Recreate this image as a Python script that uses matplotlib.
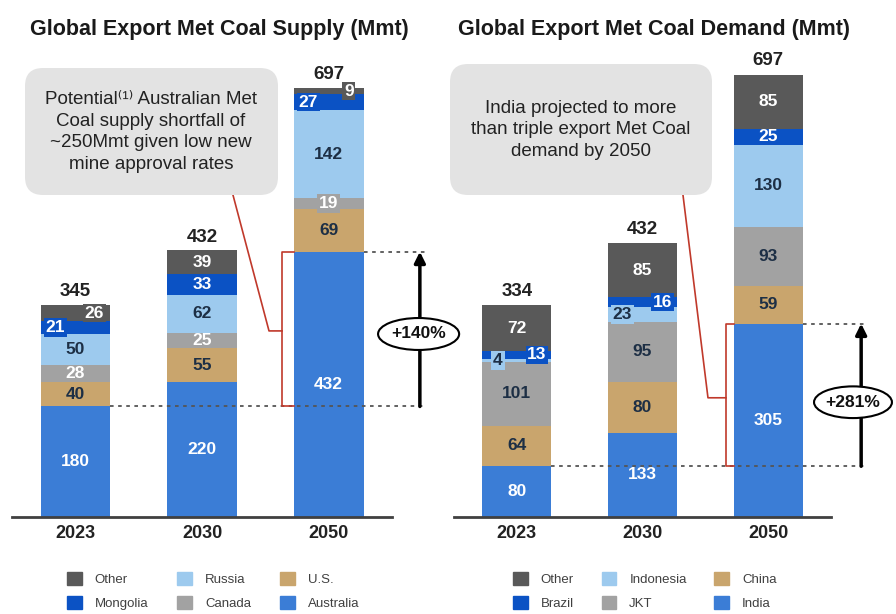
import matplotlib
matplotlib.use("Agg")
import matplotlib.pyplot as plt
from matplotlib.patches import FancyBboxPatch, Ellipse, Patch
from matplotlib.transforms import IdentityTransform

plt.rcParams['font.family'] = ['Liberation Sans', 'DejaVu Sans']

years = ['2023', '2030', '2050']

# supply, bottom to top
supply_names = ['Australia', 'U.S.', 'Canada', 'Russia', 'Mongolia', 'Other']
australia = [180, 220, 432]
us = [40, 55, 69]
canada = [28, 25, 19]
russia = [50, 62, 142]
mongolia = [21, 33, 27]
supply_other = [26, 39, 9]
supply_totals = [345, 432, 697]

# demand, bottom to top
demand_names = ['India', 'China', 'JKT', 'Indonesia', 'Brazil', 'Other']
india = [80, 133, 305]
china = [64, 80, 59]
jkt = [101, 95, 93]
indonesia = [4, 23, 130]
brazil = [13, 16, 25]
demand_other = [72, 85, 85]
demand_totals = [334, 432, 697]

colors = ['#3b7dd6', '#c9a56d', '#a2a2a2', '#9dcaee', '#0b52c4', '#595959']
DARK = '#1d2f45'
supply_txt = ['white', DARK, 'white', DARK, 'white', 'white']
demand_txt = ['white', DARK, DARK, DARK, 'white', 'white']

W = 896
H = 614
fig = plt.figure(figsize=(W / 100, H / 100), dpi=100)


def pix_axes(x0, x1, top, base):
    return fig.add_axes([x0 / W, 1 - base / H, (x1 - x0) / W, (base - top) / H])


axL = pix_axes(12, 392, 30, 517)
axR = pix_axes(454, 831, 30, 517)
axL.set_ylim(0, 793)
axR.set_ylim(0, 768)
axL.patch.set_visible(False)
axR.patch.set_visible(False)

BW = 0.55
LBL = 12.5


def draw_stack(ax, series, names, txtcol, offsets):
    bottoms = [0, 0, 0]
    for k, vals in enumerate(series):
        ax.bar(range(3), vals, BW, bottom=bottoms, color=colors[k], label=names[k], zorder=2)
        for i, v in enumerate(vals):
            y = bottoms[i] + v / 2
            dx = offsets.get((k, i), None)
            if dx is None:
                ax.text(i, y, str(v), ha='center', va='center', color=txtcol[k],
                        fontsize=LBL, fontweight='bold', zorder=4)
            else:
                ax.text(i + dx, y, str(v), ha='center', va='center', color=txtcol[k],
                        fontsize=LBL, fontweight='bold', zorder=5,
                        bbox=dict(boxstyle='square,pad=0.1', fc=colors[k], ec='none'))
        bottoms = [b + v for b, v in zip(bottoms, vals)]


draw_stack(axL, [australia, us, canada, russia, mongolia, supply_other], supply_names, supply_txt,
           {(4, 0): -0.16, (5, 0): 0.15, (4, 2): -0.16, (5, 2): 0.16, (2, 2): 0.0})
draw_stack(axR, [india, china, jkt, indonesia, brazil, demand_other], demand_names, demand_txt,
           {(3, 0): -0.15, (4, 0): 0.16, (3, 1): -0.16, (4, 1): 0.16})

for ax, totals in [(axL, supply_totals), (axR, demand_totals)]:
    for i, t in enumerate(totals):
        ax.annotate(str(t), (i, t), xytext=(0, 4), textcoords='offset points',
                    ha='center', va='bottom', fontsize=13.5, fontweight='bold', color='#222222')
    ax.set_xlim(-0.5, 2.5)
    ax.set_xticks(range(3))
    ax.set_xticklabels(years, fontsize=13, fontweight='bold', color='#222222')
    ax.tick_params(axis='x', length=0, pad=6)
    ax.set_yticks([])
    for s in ['top', 'left', 'right']:
        ax.spines[s].set_visible(False)
    ax.spines['bottom'].set_color('#404040')
    ax.spines['bottom'].set_linewidth(2)
    ax.spines['bottom'].set_zorder(3)

fig.text(30 / W, 1 - 29 / H, 'Global Export Met Coal Supply (Mmt)', fontsize=15.5,
         fontweight='bold', color='#1a1a1a', va='center', ha='left')
fig.text(458 / W, 1 - 29 / H, 'Global Export Met Coal Demand (Mmt)', fontsize=15.5,
         fontweight='bold', color='#1a1a1a', va='center', ha='left')

RED = '#c0392b'
DASH = (0, (2, 2.5))


def growth(ax, y0, y1, x_first, x_last, x_end, x_arrow, ell_xy, ell_w, ell_h, label):
    ax.plot([x_first + BW / 2, x_end], [y0, y0], ls=DASH, color='#555555', lw=1.3,
            clip_on=False, zorder=6)
    ax.plot([x_last + BW / 2, x_end], [y1, y1], ls=DASH, color='#555555', lw=1.3,
            clip_on=False, zorder=6)
    ax.annotate('', xy=(x_arrow, y1), xytext=(x_arrow, y0),
                arrowprops=dict(arrowstyle='-|>', lw=2.5, color='black', mutation_scale=16,
                                shrinkA=0, shrinkB=0), annotation_clip=False, zorder=7)
    e = Ellipse(ell_xy, ell_w, ell_h, fc='white', ec='black', lw=1.5, clip_on=False, zorder=8)
    ax.add_patch(e)
    ax.text(ell_xy[0], ell_xy[1], label, ha='center', va='center', fontsize=12.5,
            fontweight='bold', color='#111111', zorder=9)


growth(axL, australia[0], australia[2], 0, 2, 2.76, 2.72, (2.71, 298), 0.64, 52, '+140%')
growth(axR, india[0], india[2], 0, 2, 2.79, 2.74, (2.675, 181), 0.62, 50, '+281%')


def bracket(ax, y0, y1, xb, xstub, ymid, xbox, ybox):
    xl = 2 - BW / 2
    ax.plot([xl, xb, xb, xl], [y1, y1, y0, y0], color=RED, lw=1.2, clip_on=False, zorder=6)
    ax.plot([xb, xstub, xbox], [ymid, ymid, ybox], color=RED, lw=1.2, clip_on=False, zorder=6)


bracket(axL, australia[0], australia[2], 1.632, 1.529, 303, 1.245, 524)
bracket(axR, india[0], india[2], 1.664, 1.521, 188, 1.322, 508)


def callout(x0, y0, x1, y1, cx, cy, text):
    box = FancyBboxPatch((x0, H - y1), x1 - x0, y1 - y0,
                         boxstyle='round,pad=0,rounding_size=18',
                         transform=IdentityTransform(), fc='#e3e3e3', ec='none', zorder=1)
    fig.add_artist(box)
    fig.text(cx / W, 1 - cy / H, text, ha='center', va='center', fontsize=13.5,
             color='#222222', linespacing=1.38)


callout(25, 68, 278, 195, 151, 132,
        'Potential⁽¹⁾ Australian Met\nCoal supply shortfall of\n~250Mmt given low new\nmine approval rates')
callout(450, 64, 712, 195, 581, 130,
        'India projected to more\nthan triple export Met Coal\ndemand by 2050')

# legends
handles = [Patch(color=colors[k]) for k in range(6)]
order = [5, 4, 3, 2, 1, 0]
fig.legend([handles[k] for k in order], [supply_names[k] for k in order], ncol=3,
           loc='upper left', bbox_to_anchor=(67 / W, 1 - 572 / H), frameon=False,
           fontsize=9.5, handlelength=1.1, handleheight=1.1, handletextpad=1.0,
           columnspacing=2.2, labelspacing=0.8, borderpad=0, borderaxespad=0,
           labelcolor='#404040')
fig.legend([handles[k] for k in order], [demand_names[k] for k in order], ncol=3,
           loc='upper left', bbox_to_anchor=(513 / W, 1 - 572 / H), frameon=False,
           fontsize=9.5, handlelength=1.1, handleheight=1.1, handletextpad=1.0,
           columnspacing=2.1, labelspacing=0.8, borderpad=0, borderaxespad=0,
           labelcolor='#404040')

fig.savefig('out.png', dpi=100)
